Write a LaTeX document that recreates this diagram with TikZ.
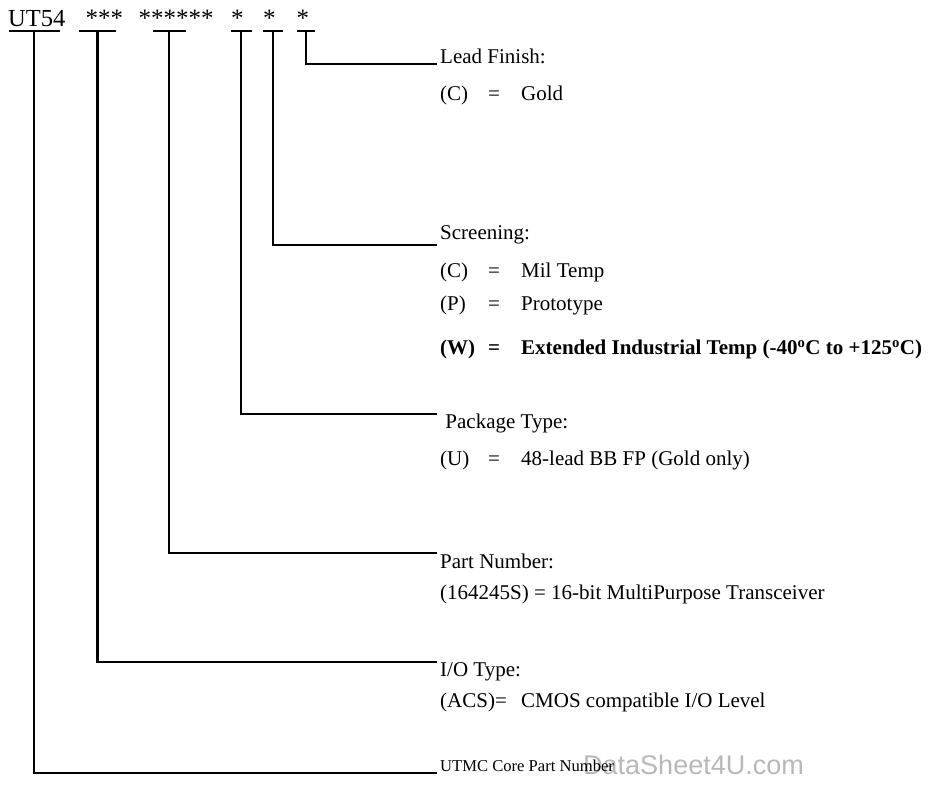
\documentclass[tikz,border=0pt]{standalone}
\usepackage{fontspec}
\setmainfont{Liberation Serif}
\newfontfamily\wmfont{Liberation Sans}
\usetikzlibrary{positioning}

\newcommand{\optline}[2]{\makebox[48pt][l]{#1}\makebox[33pt][l]{=}#2}

\begin{document}
\begin{tikzpicture}[x=1pt, y=-1pt,
  field/.style={font=\fontsize{25}{25}\selectfont, inner sep=0pt, anchor=base west},
  bar/.style={fill=black, inner sep=0pt, minimum height=2.3pt},
  head/.style={font=\fontsize{21}{21}\selectfont, inner xsep=3pt, inner ysep=0pt,
               anchor=base west},
  item/.style={font=\fontsize{21}{21}\selectfont, inner sep=0pt, anchor=base west},
  wmark/.style={font=\wmfont\fontsize{27}{27}\selectfont, text=black!28,
                inner sep=0pt, anchor=base west},
  lead/.style={draw, line width=2.3pt},
]
  \useasboundingbox (0,0) rectangle (932,791);

  % ===== Part number fields =====
  \node[field, font=\fontsize{24.5}{25}\selectfont] (fcore) at (8,27) {UT54};
  \node[field] (fio)   at (85.5,27)  {***};
  \node[field] (fpart) at (138.5,27) {******};
  \node[field] (fpkg)  at (231,27)   {*};
  \node[field] (fscr)  at (263,27)   {*};
  \node[field] (flead) at (296.5,27) {*};

  % underlines (tee tops)
  \node[bar, minimum width=51pt] (tcore) at (34,31)  {};
  \node[bar, minimum width=37pt] (tio)   at (97.5,31) {};
  \node[bar, minimum width=33pt] (tpart) at (169,31) {};
  \node[bar, minimum width=21pt] (tpkg)  at (241,31) {};
  \node[bar, minimum width=20pt] (tscr)  at (273,31) {};
  \node[bar, minimum width=18pt] (tlead) at (306,31) {};

  % ===== Lead finish =====
  \node[head] (llead) at (437,64) {Lead Finish:};
  \node[item] (cgold) at (440,101) {\optline{(C)}{Gold}};

  % ===== Screening =====
  \node[head] (lscr) at (437,240) {Screening:};
  \node[item] (cmil)  at (440,278) {\optline{(C)}{Mil Temp}};
  \node[item] (cprot) at (440,311) {\optline{(P)}{Prototype}};
  \node[item, font=\fontsize{21}{21}\selectfont\bfseries] (cext) at (440,355)
       {\optline{(W)}{Extended Industrial Temp (-40\textsuperscript{o}C to +125\textsuperscript{o}C)}};

  % ===== Package type =====
  \node[head] (lpkg) at (437,429) {\ Package Type:};
  \node[item] (cbbfp) at (440,465) {\optline{(U)}{48-lead BB FP (Gold only)}};

  % ===== Part number =====
  \node[head] (lpart) at (437,568) {Part Number:};
  \node[item] (cxcvr) at (440,599) {(164245S) = 16-bit MultiPurpose Transceiver};

  % ===== I/O type =====
  \node[head] (lio) at (437,676) {I/O Type:};
  \node[item] (ccmos) at (440,707) {\makebox[81pt][l]{(ACS)=}CMOS compatible I/O Level};

  % ===== Core =====
  \node[wmark] (wm) at (583,774) {DataSheet4U.com};
  \node[head, font=\fontsize{16.6}{17}\selectfont] (lcore) at (437,771) {UTMC Core Part Number};

  % connectors
  \draw[lead] (tlead.center) |- (llead.base west);
  \draw[lead] (tscr.center)  |- (lscr.south west);
  \draw[lead] (tpkg.center)  |- (lpkg.north west);
  \draw[lead] (tpart.center) |- (lpart.north west);
  \draw[lead] (tio.center)   |- (lio.north west);
  \draw[lead] (tcore.center) |- ([yshift=-2pt]lcore.base west);

\end{tikzpicture}
\end{document}
